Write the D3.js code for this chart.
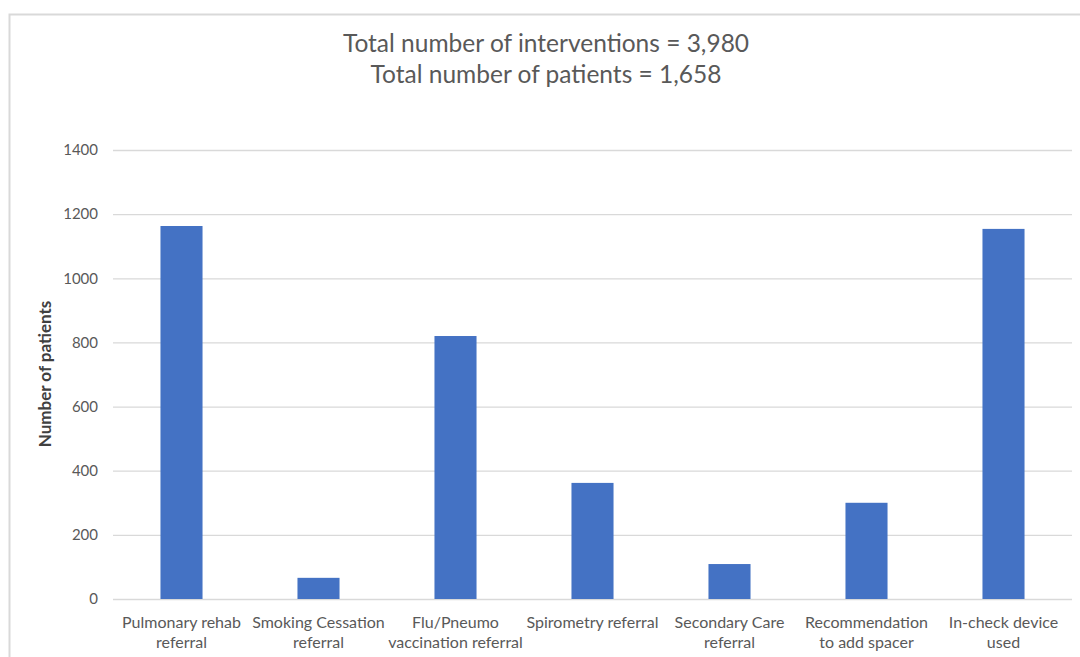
<!DOCTYPE html>
<html><head><meta charset="utf-8">
<script src="https://cdn.jsdelivr.net/npm/d3@7"></script>
<style>
html,body{margin:0;padding:0;background:#fff;}
svg{display:block;font-family:Lato,"Open Sans",sans-serif;}
</style></head>
<body><svg id="c" width="1080" height="657"></svg>
<script>
const categories = [
  ["Pulmonary rehab", "referral"],
  ["Smoking Cessation", "referral"],
  ["Flu/Pneumo", "vaccination referral"],
  ["Spirometry referral"],
  ["Secondary Care", "referral"],
  ["Recommendation", "to add spacer"],
  ["In-check device", "used"]
];
const values = [1163, 66, 820, 362, 109, 300, 1154];
const yTicks = [0, 200, 400, 600, 800, 1000, 1200, 1400];
const titleLines = ["Total number of interventions = 3,980", "Total number of patients = 1,658"];
const yLabel = "Number of patients";

(function(){
const svg = d3.select("#c");
const pLeft = 113, pRight = 1072, pTop = 150, pBottom = 599;

// chart border
svg.append("path").attr("d", "M9.5,657 L9.5,14.5 L1080,14.5")
  .attr("fill", "none").attr("stroke", "#d9d9d9").attr("stroke-width", 2);

const x = d3.scaleBand().domain(categories.map((d,i)=>i)).range([pLeft, pRight]).paddingInner(0.693).paddingOuter(0.3465);
const y = d3.scaleLinear().domain([0, 1400]).range([pBottom, pTop]);

// gridlines
const yAxis = d3.axisLeft(y).tickValues(yTicks).tickSize(-(pRight-pLeft)).tickPadding(15).tickFormat(d3.format("d"));
const ga = svg.append("g").attr("transform", `translate(${pLeft},0)`).call(yAxis);
ga.select(".domain").remove();
ga.selectAll(".tick line").attr("stroke", "#d9d9d9").attr("stroke-width", 1.3);
ga.selectAll(".tick text").attr("fill", "#595959").attr("font-size", 15).attr("font-family", "Lato, sans-serif");

// bars
svg.append("g").selectAll("rect").data(values).join("rect")
  .attr("x", (d,i)=>x(i)).attr("width", x.bandwidth())
  .attr("y", d=>y(d)).attr("height", d=>y(0)-y(d))
  .attr("fill", "#4472c4");

// x labels
const xl = svg.append("g");
categories.forEach((lines, i) => {
  const cx = x(i)+x.bandwidth()/2;
  const t = xl.append("text").attr("x", cx).attr("y", 627.5)
    .attr("text-anchor", "middle").attr("fill", "#595959").attr("font-size", 16);
  lines.forEach((l, j) => t.append("tspan").attr("x", cx).attr("dy", j===0?0:20).text(l));
});

// title
titleLines.forEach((l, j) => {
  svg.append("text").attr("x", 546).attr("y", 51.5 + j*31.5).attr("text-anchor", "middle")
    .attr("fill", "#595959").attr("font-size", 24.5).text(l);
});

// y label
svg.append("text").attr("transform", "translate(51,374) rotate(-90)").attr("text-anchor", "middle")
  .attr("fill", "#404040").attr("font-size", 17).attr("font-weight", "bold").text(yLabel);
})();
</script>
</body></html>
